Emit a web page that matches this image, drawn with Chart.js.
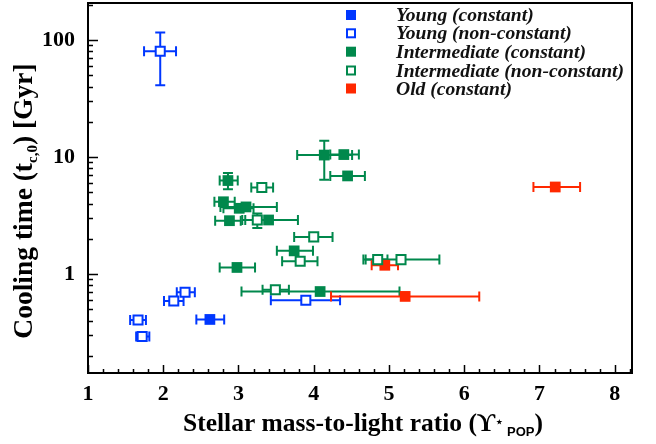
<!DOCTYPE html>
<html>
<head>
<meta charset="utf-8">
<script src="https://cdn.jsdelivr.net/npm/chart.js"></script>
<style>
  html, body { margin: 0; padding: 0; background: #fff; }
  #wrap { width: 656px; height: 444px; }
</style>
</head>
<body>
<div id="wrap"><canvas id="chart" width="656" height="444"></canvas></div>
<script>
// values
const xTicks = [1, 2, 3, 4, 5, 6, 7, 8];
const yTicks = [1, 10, 100];

// Young (constant)
const ycX = [2.62];
const ycY = [0.41];
const ycXlo = [2.44];
const ycXhi = [2.81];

// Young (non-constant)
const ynX = [1.96, 2.29, 2.14, 1.665, 1.72, 3.895];
const ynY = [80, 0.70, 0.59, 0.405, 0.293, 0.597];
const ynXlo = [1.745, 2.18, 2.01, 1.56, 1.64, 3.43];
const ynXhi = [2.17, 2.42, 2.27, 1.77, 1.815, 4.35];
const ynYlo = [41, null, null, null, null, null];
const ynYhi = [116, null, null, null, null, null];

// Intermediate (constant)
const icX = [4.14, 4.40, 4.45, 2.86, 2.80, 3.01, 3.10, 2.88, 3.40, 3.74, 2.98, 4.085];
const icY = [10.4, 10.5, 6.9, 6.3, 4.15, 3.65, 3.75, 2.86, 2.90, 1.58, 1.14, 0.71];
const icXlo = [3.78, 4.22, 4.22, 2.75, 2.68, 2.80, 2.76, 2.69, 3.05, 3.51, 2.75, 3.04];
const icXhi = [4.51, 4.60, 4.68, 2.99, 2.95, 3.20, 3.51, 3.03, 3.79, 3.99, 3.22, 5.14];
const icYlo = [6.4, null, null, 5.3, null, null, null, null, null, null, null, null];
const icYhi = [13.8, null, null, 7.3, null, null, null, null, null, null, null, null];

// Intermediate (non-constant)
const inX = [3.31, 3.25, 4.00, 3.82, 4.85, 5.16, 3.49];
const inY = [5.5, 2.90, 2.08, 1.29, 1.33, 1.33, 0.735];
const inXlo = [3.17, 3.09, 3.74, 3.58, 4.66, 4.69, 3.32];
const inXhi = [3.46, 3.42, 4.25, 4.05, 4.98, 5.67, 3.67];
const inYlo = [null, 2.48, null, null, null, null, null];
const inYhi = [null, 3.30, null, null, null, null, null];

// Old (constant)
const ocX = [7.21, 4.945, 5.215];
const ocY = [5.55, 1.19, 0.645];
const ocXlo = [6.92, 4.77, 4.23];
const ocXhi = [7.54, 5.12, 6.20];

const BLUE = "rgb(0, 55, 255)";
const GREEN = "rgb(0, 136, 76)";
const RED = "rgb(255, 40, 0)";

function pts(xs, ys, xlo, xhi, ylo, yhi) {
  return xs.map((x, i) => ({
    x: x, y: ys[i],
    xlo: xlo[i], xhi: xhi[i],
    ylo: ylo ? ylo[i] : null, yhi: yhi ? yhi[i] : null
  }));
}

function makeSet(label, data, color, filled) {
  return {
    label: label,
    data: data,
    pointStyle: "rect",
    pointRadius: filled ? 7.6 : 6.4,
    pointHoverRadius: filled ? 7.6 : 6.4,
    borderWidth: filled ? 0 : 2,
    borderColor: color,
    backgroundColor: filled ? color : "#fff",
    filled: filled
  };
}

const datasets = [
  makeSet("Young (constant)", pts(ycX, ycY, ycXlo, ycXhi), BLUE, true),
  makeSet("Young (non-constant)", pts(ynX, ynY, ynXlo, ynXhi, ynYlo, ynYhi), BLUE, false),
  makeSet("Intermediate (constant)", pts(icX, icY, icXlo, icXhi, icYlo, icYhi), GREEN, true),
  makeSet("Intermediate (non-constant)", pts(inX, inY, inXlo, inXhi, inYlo, inYhi), GREEN, false),
  makeSet("Old (constant)", pts(ocX, ocY, ocXlo, ocXhi), RED, true)
];

// error bars, drawn under the markers
const errorBars = {
  id: "errorBars",
  beforeDatasetsDraw(chart) {
    const ctx = chart.ctx;
    const xs = chart.scales.x, ys = chart.scales.y;
    const cap = 5;
    ctx.save();
    ctx.lineWidth = 2;
    chart.data.datasets.forEach(ds => {
      ctx.strokeStyle = ds.borderColor;
      ds.data.forEach(p => {
        const px = xs.getPixelForValue(p.x);
        const py = ys.getPixelForValue(p.y);
        ctx.beginPath();
        if (p.xlo != null) {
          const a = xs.getPixelForValue(p.xlo), b = xs.getPixelForValue(p.xhi);
          ctx.moveTo(a, py); ctx.lineTo(b, py);
          ctx.moveTo(a, py - cap); ctx.lineTo(a, py + cap);
          ctx.moveTo(b, py - cap); ctx.lineTo(b, py + cap);
        }
        if (p.ylo != null) {
          const a = ys.getPixelForValue(p.ylo), b = ys.getPixelForValue(p.yhi);
          ctx.moveTo(px, a); ctx.lineTo(px, b);
          ctx.moveTo(px - cap, a); ctx.lineTo(px + cap, a);
          ctx.moveTo(px - cap, b); ctx.lineTo(px + cap, b);
        }
        ctx.stroke();
      });
    });
    ctx.restore();
  }
};

// frame, inner ticks, legend and axis titles
const decor = {
  id: "decor",
  afterDraw(chart) {
    const ctx = chart.ctx;
    const a = chart.chartArea;
    const xs = chart.scales.x, ys = chart.scales.y;
    ctx.save();
    ctx.strokeStyle = "#000";

    // minor/major ticks, inside
    ctx.lineWidth = 1.5;
    ctx.beginPath();
    for (let v = 1; v <= 8.2001; v += 0.2) {
      const px = Math.round(xs.getPixelForValue(v)) + 0.5;
      const major = Math.abs(v - Math.round(v)) < 1e-6;
      const len = major ? 8 : 4;
      ctx.moveTo(px, a.bottom); ctx.lineTo(px, a.bottom - len);
    }
    for (let d = -1; d <= 2; d++) {
      for (let m = 1; m <= 9; m++) {
        const v = m * Math.pow(10, d);
        if (v < ys.min || v > ys.max) continue;
        const py = Math.round(ys.getPixelForValue(v)) + 0.5;
        const len = m === 1 ? 10 : 5;
        ctx.moveTo(a.left, py); ctx.lineTo(a.left + len, py);
      }
    }
    ctx.stroke();

    // frame
    ctx.lineWidth = 2;
    ctx.strokeRect(a.left, a.top, a.right - a.left, a.bottom - a.top);

    // legend
    const rowY = [15, 33.3, 51.7, 70.5, 88.5];
    ctx.font = "italic bold 19.6px 'Liberation Serif'";
    ctx.textBaseline = "middle";
    ctx.textAlign = "left";
    chart.data.datasets.forEach((ds, i) => {
      const cy = rowY[i], cx = 351;
      if (ds.filled) {
        ctx.fillStyle = ds.borderColor;
        ctx.fillRect(cx - 5, cy - 5, 10, 10);
      } else {
        ctx.strokeStyle = ds.borderColor;
        ctx.lineWidth = 2;
        ctx.strokeRect(cx - 4, cy - 4, 8, 8);
      }
      ctx.fillStyle = "#111";
      ctx.fillText(ds.label, 396, cy + 1);
    });

    // x title
    ctx.fillStyle = "#000";
    ctx.textBaseline = "alphabetic";
    const partsX = [
      { t: "Stellar mass-to-light ratio (ϒ", f: "bold 25.5px 'Liberation Serif'", dy: 0 },
      { t: "⋆", f: "bold 13px 'DejaVu Sans'", dy: -5 },
      { t: " POP", f: "bold 13px 'Liberation Sans'", dy: 5 },
      { t: ")", f: "bold 25.5px 'Liberation Serif'", dy: 0 }
    ];
    let w = 0;
    partsX.forEach(p => { ctx.font = p.f; w += ctx.measureText(p.t).width; });
    let x0 = 363 - w / 2;
    partsX.forEach(p => {
      ctx.font = p.f;
      ctx.fillText(p.t, x0, 431 + p.dy);
      x0 += ctx.measureText(p.t).width;
    });

    // y title, rotated
    ctx.translate(32, 201);
    ctx.rotate(-Math.PI / 2);
    const partsY = [
      { t: "Cooling time (t", f: "bold 27.5px 'Liberation Serif'", dy: 0 },
      { t: "c,0", f: "bold 15px 'Liberation Serif'", dy: 5 },
      { t: ") [Gyr]", f: "bold 27.5px 'Liberation Serif'", dy: 0 }
    ];
    w = 0;
    partsY.forEach(p => { ctx.font = p.f; w += ctx.measureText(p.t).width; });
    x0 = -w / 2;
    partsY.forEach(p => {
      ctx.font = p.f;
      ctx.fillText(p.t, x0, p.dy);
      x0 += ctx.measureText(p.t).width;
    });
    ctx.restore();
  }
};

new Chart(document.getElementById("chart"), {
  type: "scatter",
  data: { datasets: datasets },
  options: {
    responsive: false,
    animation: false,
    events: [],
    layout: { autoPadding: false, padding: { top: 3, right: 24, left: 0, bottom: 0 } },
    plugins: {
      legend: { display: false },
      tooltip: { enabled: false }
    },
    scales: {
      x: {
        type: "linear",
        min: 1,
        max: 8.23,
        grid: { display: false },
        border: { display: false },
        afterBuildTicks: s => { s.ticks = xTicks.map(v => ({ value: v })); },
        afterFit: s => { s.height = 71; s.paddingLeft = 0; s.paddingRight = 0; },
        ticks: {
          padding: 0,
          color: "#000",
          font: { family: "Liberation Serif", size: 22, weight: "bold" },
          callback: v => String(v)
        }
      },
      y: {
        type: "logarithmic",
        min: 0.143,
        max: 207,
        grid: { display: false },
        border: { display: false },
        afterBuildTicks: s => { s.ticks = yTicks.map(v => ({ value: v })); },
        afterFit: s => { s.width = 88; s.paddingTop = 0; s.paddingBottom = 0; },
        ticks: {
          padding: 5,
          color: "#000",
          font: { family: "Liberation Serif", size: 22, weight: "bold" },
          callback: v => String(v)
        }
      }
    }
  },
  plugins: [errorBars, decor]
});
</script>
</body>
</html>
